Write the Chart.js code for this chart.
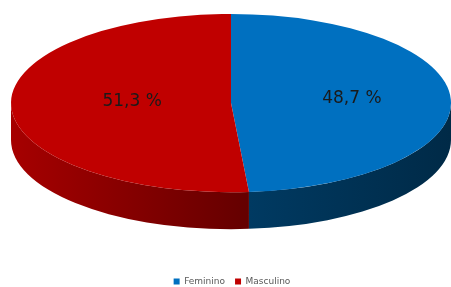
<!DOCTYPE html>
<html>
<head>
<meta charset="utf-8">
<script src="https://cdn.jsdelivr.net/npm/chart.js@4/dist/chart.umd.min.js"></script>
<style>
  html, body { margin: 0; padding: 0; background: #fff; }
  #wrap { width: 451px; height: 287px; }
</style>
</head>
<body>
<div id="wrap"><canvas id="pieChart"></canvas></div>
<script>
const labels = ['Feminino', 'Masculino'];
const values = [48.7, 51.3];
const topColors = ['#0070C0', '#C00000'];
const sideColors = [['#003a62', '#002a47'], ['#a60000', '#640000']];

// flattens the pie into a tilted disc and draws its front wall
const tiltPlugin = {
  id: 'tilt',
  beforeDatasetsDraw(chart) {
    const ctx = chart.ctx;
    const arcs = chart.getDatasetMeta(0).data;
    const area = chart.chartArea;
    const rx = area.width / 2;
    const ry = rx * 0.405;
    const depth = rx * 0.168;
    const cx = (area.left + area.right) / 2;
    const cy = area.top + ry;
    chart.$tilt = { rx, ry, cx, cy };

    ctx.save();
    arcs.forEach((arc, i) => {
      const s = Math.max(arc.startAngle, 0);
      const e = Math.min(arc.endAngle, Math.PI);
      if (e <= s) return;
      const x1 = cx + rx * Math.cos(e), x2 = cx + rx * Math.cos(s);
      const g = ctx.createLinearGradient(Math.min(x1, x2), 0, Math.max(x1, x2), 0);
      g.addColorStop(0, sideColors[i][0]);
      g.addColorStop(1, sideColors[i][1]);
      ctx.beginPath();
      ctx.ellipse(cx, cy, rx, ry, 0, s, e, false);
      ctx.lineTo(cx + rx * Math.cos(e), cy + ry * Math.sin(e) + depth);
      ctx.ellipse(cx, cy + depth, rx, ry, 0, e, s, true);
      ctx.closePath();
      ctx.fillStyle = g;
      ctx.fill();
    });
    ctx.restore();

    ctx.save();
    ctx.translate(cx, cy);
    ctx.scale(rx / arcs[0].outerRadius, ry / arcs[0].outerRadius);
    ctx.translate(-arcs[0].x, -arcs[0].y);
  },
  afterDatasetsDraw(chart) {
    const ctx = chart.ctx;
    ctx.restore();
    const t = chart.$tilt;
    const arcs = chart.getDatasetMeta(0).data;
    ctx.save();
    ctx.font = '17px "DejaVu Sans", Verdana, sans-serif';
    ctx.fillStyle = '#1a1a1a';
    ctx.textAlign = 'center';
    ctx.textBaseline = 'middle';
    arcs.forEach((arc, i) => {
      const mid = (arc.startAngle + arc.endAngle) / 2;
      const x = t.cx + Math.cos(mid) * t.rx * 0.5 + t.rx * 0.05;
      const y = t.cy + Math.sin(mid) * t.ry * 0.5 - 3;
      ctx.fillText(values[i].toFixed(1).replace('.', ',') + ' %', x, y);
    });
    ctx.restore();
  }
};

new Chart(document.getElementById('pieChart'), {
  type: 'pie',
  data: {
    labels: labels,
    datasets: [{
      data: values,
      backgroundColor: topColors,
      borderWidth: 0
    }]
  },
  options: {
    responsive: true,
    maintainAspectRatio: false,
    animation: false,
    layout: { padding: { top: 14, left: 11, right: -2, bottom: -9 } },
    plugins: {
      tooltip: { enabled: false },
      legend: {
        position: 'bottom',
        labels: {
          boxWidth: 6, boxHeight: 6, padding: 10,
          color: '#595959',
          font: { size: 9, family: '"DejaVu Sans", Verdana, sans-serif' }
        }
      }
    }
  },
  plugins: [tiltPlugin]
});
</script>
</body>
</html>
